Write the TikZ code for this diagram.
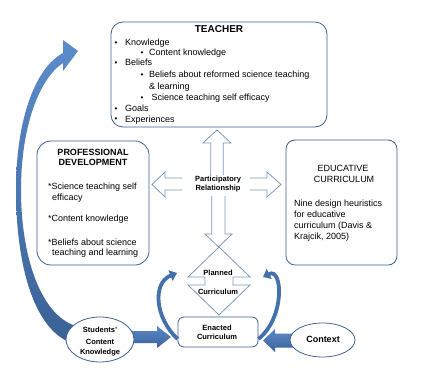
\documentclass[tikz,border=0pt]{standalone}
\usepackage{fontspec}
\setmainfont{Liberation Sans}
\usetikzlibrary{arrows.meta,shapes.geometric}
\definecolor{boxblue}{HTML}{3F6391}
\definecolor{hollowc}{HTML}{8098BA}
\definecolor{blueA}{HTML}{5B8CCB}
\definecolor{blueB}{HTML}{3A6196}
\definecolor{curvc}{HTML}{4471AA}
\newcommand{\bulA}{\makebox[10.5pt][l]{\fontsize{8}{8}\selectfont\raisebox{0.3pt}{•}}}
\newcommand{\bulB}{\makebox[8.5pt][l]{\fontsize{8}{8}\selectfont\raisebox{0.3pt}{•}}}
\tikzset{
  rbox/.style={draw=boxblue, line width=0.8pt, fill=white, inner sep=0pt},
  hollow/.style={draw=hollowc, line width=0.8pt, fill=white, line join=miter},
  blockfill/.style={top color=blueA, bottom color=blueB, draw=none},
  curv/.style={draw=curvc, line width=3.8pt, -{Triangle[length=7pt,width=11pt]}},
  ell/.style={ellipse, draw=boxblue, line width=0.8pt, fill=white, inner sep=0pt},
  txt/.style={inner sep=0pt, anchor=base west, font=\fontsize{9}{11}\selectfont},
  ctxt/.style={inner sep=0pt, anchor=base, font=\fontsize{9}{11}\selectfont},
  btxt/.style={inner sep=0pt, anchor=base, font=\fontsize{7.5}{9}\selectfont\bfseries},
}
\begin{document}
\begin{tikzpicture}[x=1pt,y=-1pt]
\useasboundingbox (0,0) rectangle (422,371);
\fill[white] (0,0) rectangle (422,371);

% big curved arrow from students to teacher
\path[blockfill] (78,51) -- (63,40) -- (63,53)
  .. controls (35,68) and (16,120) .. (16,190)
  .. controls (16,255) and (30,330) .. (74,344)
  -- (76,326)
  .. controls (40,315) and (21,255) .. (21,190)
  .. controls (21,125) and (40,78) .. (63,63)
  -- (63,71) -- cycle;

% boxes
\node[rbox, rounded corners=12pt, minimum width=216pt, minimum height=105pt] (teacher) at (219,74.5) {};
\node[rbox, rounded corners=14pt, minimum width=112pt, minimum height=124pt] (pd) at (93,203) {};
\node[rbox, rounded corners=9pt, minimum width=111pt, minimum height=125pt] (ec) at (341.5,202.5) {};
\node[rbox, rounded corners=6pt, minimum width=80pt, minimum height=30pt] (enacted) at (218,332) {};

% hollow arrows around participatory relationship
\draw[hollow] (210.7,175) -- (210.7,143) -- (203,143) -- (217,130) -- (231,143) -- (223.3,143) -- (223.3,175);
\draw[hollow] (182,178) -- (165,178) -- (165,172) -- (152,184.5) -- (165,197) -- (165,190) -- (182,190);
\draw[hollow] (250,178) -- (267,178) -- (267,172) -- (281,184.5) -- (267,197) -- (267,190) -- (250,190);
\draw[hollow] (211.7,196) -- (211.7,234) -- (205,234) -- (218.5,247) -- (232,234) -- (225,234) -- (225,196);

% planned curriculum up-down arrow
\draw[hollow] (219,247) -- (250,277) -- (233,277) -- (233,285) -- (250,285) -- (219,315)
  -- (188,285) -- (205,285) -- (205,277) -- (188,277) -- cycle;

% curved arrows enacted -> planned
\coordinate (lend) at (177,273);
\coordinate (rend) at (263,277);
\draw[curv] ([yshift=-7pt]enacted.west) .. controls (155,318) and (152,283) .. (lend);
\draw[curv] ([yshift=-7pt]enacted.east) .. controls (285,318) and (283,267) .. (rend);

% blue block arrows
\path[blockfill] (120,331) -- (157,331) -- (157,326) -- (171,337) -- (157,348) -- (157,343) -- (120,343) -- cycle;
\path[blockfill] (300,333.5) -- (275,333.5) -- (275,329) -- (263,340.5) -- (275,352) -- (275,347.5) -- (300,347.5) -- cycle;

% ellipses
\node[ell, minimum width=68pt, minimum height=45pt] (students) at (100,339.5) {};
\node[ell, minimum width=65pt, minimum height=34pt] (context) at (322.5,340) {};

% TEACHER texts
\node[inner sep=0pt, anchor=base, font=\fontsize{10}{12}\selectfont\bfseries] (tt) at (219,32.8) {TEACHER};
\node[txt] (t1) at (114.5,45.6) {\bulA Knowledge};
\node[txt] (t2) at (140.5,56) {\bulB Content knowledge};
\node[txt] (t3) at (114.5,66) {\bulA Beliefs};
\node[txt] (t4) at (140.5,77.6) {\bulB Beliefs about reformed science teaching};
\node[txt] (t5) at (149,90) {\& learning};
\node[txt] (t6) at (140.5,101) {\bulB\ Science teaching self efficacy};
\node[txt] (t7) at (114.5,111.6) {\bulA Goals};
\node[txt] (t8) at (114.5,122.3) {\bulA Experiences};

% PD texts
\node[inner sep=0pt, anchor=base, font=\fontsize{9}{11}\selectfont\bfseries] (pd1) at (93,155.2) {PROFESSIONAL};
\node[inner sep=0pt, anchor=base, font=\fontsize{9}{11}\selectfont\bfseries] (pd2) at (93,165.4) {DEVELOPMENT};
\node[txt] (p1) at (48,189.3) {*Science teaching self};
\node[txt] (p2) at (52,200.3) {efficacy};
\node[txt] (p3) at (48,221.3) {*Content knowledge};
\node[txt] (p4) at (48,245.3) {*Beliefs about science};
\node[txt] (p5) at (52,255.5) {teaching and learning};

% EC texts
\node[ctxt] (ec1) at (343,171.3) {EDUCATIVE};
\node[ctxt] (ec2) at (344,182.3) {CURRICULUM};
\node[txt] (e1) at (294,206.2) {Nine design heuristics};
\node[txt] (e2) at (294,217) {for educative};
\node[txt] (e3) at (294,228.2) {curriculum (Davis \&};
\node[txt] (e4) at (294,239.3) {Krajcik, 2005)};

% central texts
\node[btxt] (pr1) at (218,181.8) {Participatory};
\node[btxt] (pr2) at (218,190.8) {Relationship};
\node[btxt] (pc1) at (218,275.8) {Planned};
\node[btxt] (pc2) at (218,294.5) {Curriculum};
\node[btxt] (en1) at (217,330.5) {Enacted};
\node[btxt] (en2) at (217,339.5) {Curriculum};
\node[btxt] (s1) at (100,332.8) {Students'};
\node[btxt] (s2) at (100,344.4) {Content};
\node[btxt] (s3) at (100,354.5) {Knowledge};
\node[inner sep=0pt, anchor=base, font=\fontsize{9}{11}\selectfont\bfseries] (cx) at (323,342.6) {Context};
\end{tikzpicture}
\end{document}
